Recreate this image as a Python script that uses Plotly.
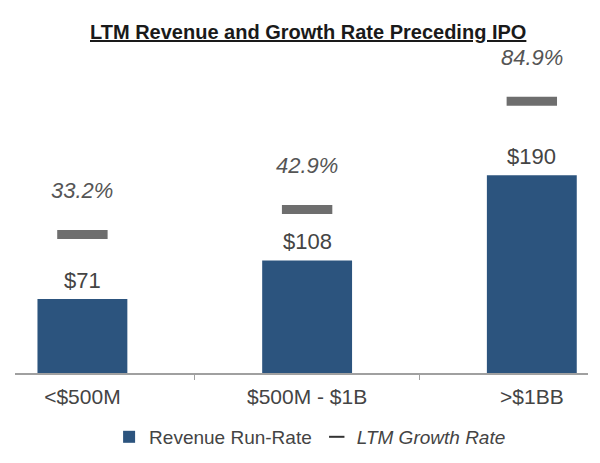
import plotly.graph_objects as go

categories = ["<$500M", "$500M - $1B", ">$1BB"]
revenue = [71, 108, 190]
growth = [33.2, 42.9, 84.9]
revenue_labels = ["$71", "$108", "$190"]
growth_labels = ["33.2%", "42.9%", "84.9%"]

BAR_COLOR = "#2C547E"
DASH_COLOR = "#6E6E6E"
TEXT_COLOR = "#444444"
FONT = "Liberation Sans, Arial, sans-serif"

fig = go.Figure()
fig.add_trace(go.Bar(
    x=categories, y=revenue, name="Revenue Run-Rate",
    marker=dict(color=BAR_COLOR, line=dict(width=0)), width=0.4,
))
fig.add_trace(go.Scatter(
    x=categories, y=growth, yaxis="y2", mode="markers",
    name="<i>LTM Growth Rate</i>", showlegend=False, legendgroup="g",
    marker=dict(symbol="line-ew", size=36, line=dict(width=9, color=DASH_COLOR)),
))
# legend-only entry drawn as a thin dash, as in the original legend
fig.add_trace(go.Scatter(
    x=[None], y=[None], yaxis="y2", mode="markers",
    name="<i>LTM Growth Rate</i>", legendgroup="g",
    marker=dict(symbol="line-ew", size=11, line=dict(width=2, color="#333333")),
))

annotations = []
for c, v, t in zip(categories, revenue, revenue_labels):
    annotations.append(dict(x=c, y=v, xref="x", yref="y", text=t, showarrow=False,
                            yanchor="middle", yshift=19,
                            font=dict(size=22, color=TEXT_COLOR, family=FONT)))
for c, v, t in zip(categories, growth, growth_labels):
    annotations.append(dict(x=c, y=v, xref="x", yref="y2", text=f"<i>{t}</i>", showarrow=False,
                            yanchor="middle", yshift=44,
                            font=dict(size=22, color="#555555", family=FONT)))
annotations.append(dict(
    x=0.511, y=1.024, xref="paper", yref="paper", showarrow=False,
    text="<b><u>LTM Revenue and Growth Rate Preceding IPO</u></b>",
    yanchor="middle", xanchor="center",
    font=dict(size=20, color="#1a1a1a", family=FONT),
))

fig.update_layout(
    width=592, height=455,
    margin=dict(l=7, r=12, t=32, b=90),
    paper_bgcolor="white", plot_bgcolor="white",
    font=dict(family=FONT, color=TEXT_COLOR),
    showlegend=True,
    legend=dict(orientation="h", x=0.515, xanchor="center", y=-0.135, yanchor="top",
                font=dict(size=19, color=TEXT_COLOR), itemwidth=30, tracegroupgap=0),
    xaxis=dict(range=[-0.3, 2.25], showline=True, linecolor="#A0A0A0", linewidth=2,
               ticks="outside", tickson="boundaries", ticklen=5, tickcolor="#A0A0A0",
               tickfont=dict(size=21, color=TEXT_COLOR), ticklabelstandoff=4,
               showgrid=False, zeroline=False),
    yaxis=dict(range=[0, 320], visible=False, showgrid=False),
    yaxis2=dict(range=[-20.5, 108.6], overlaying="y", visible=False, showgrid=False),
    annotations=annotations,
    bargap=0.6,
)

fig.write_html("out.html")
